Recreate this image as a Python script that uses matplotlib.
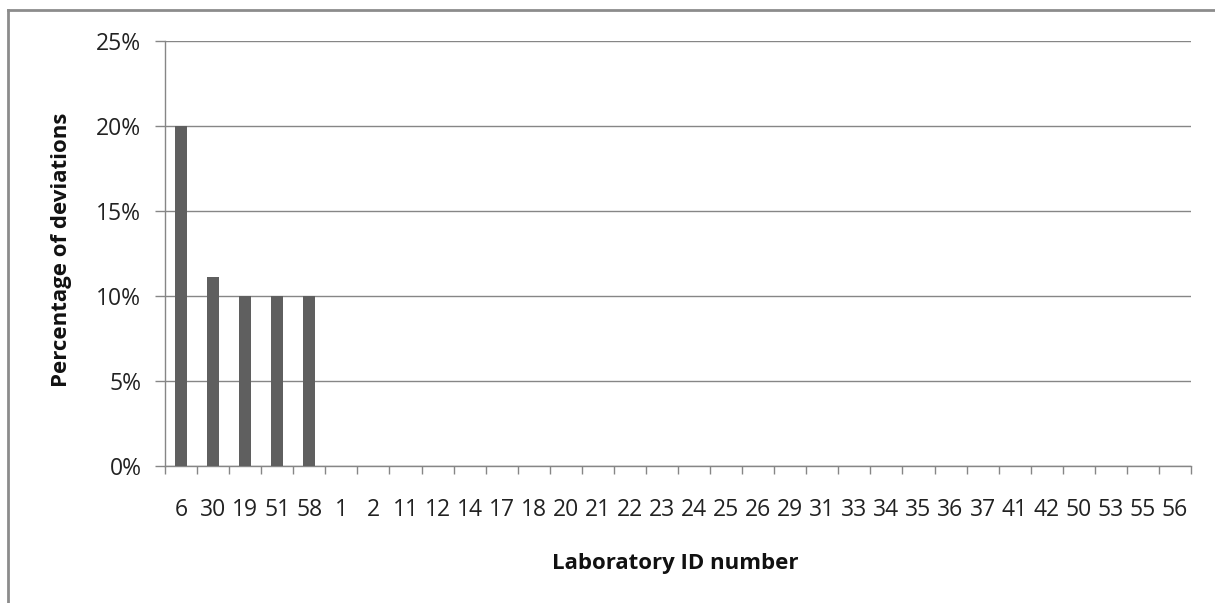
import matplotlib
matplotlib.use("Agg")
import matplotlib.pyplot as plt
from matplotlib.lines import Line2D
from matplotlib.ticker import FuncFormatter, MultipleLocator, FixedLocator
import numpy as np

# Data
lab_ids = ["6", "30", "19", "51", "58", "1", "2", "11", "12", "14", "17",
           "18", "20", "21", "22", "23", "24", "25", "26", "29", "31", "33",
           "34", "35", "36", "37", "41", "42", "50", "53", "55", "56"]
pct_deviations = [20.0, 11.1, 10.0, 10.0, 10.0] + [0.0] * 27

plt.rcParams["font.family"] = ["Open Sans", "DejaVu Sans"]
plt.rcParams["font.size"] = 16

W, H = 1215, 603
fig = plt.figure(figsize=(W / 100, H / 100), dpi=100)
ax = fig.add_axes([165 / W, 1 - 466 / H, (1191 - 165) / W, (466 - 41) / H])

grey = "#868686"
x = np.arange(len(lab_ids))
ax.bar(x, pct_deviations, width=0.38, color="#5f5f5f", zorder=3)

ax.set_xlim(-0.5, len(lab_ids) - 0.5)
ax.set_ylim(0, 25)
ax.yaxis.set_major_locator(MultipleLocator(5))
ax.yaxis.set_major_formatter(FuncFormatter(lambda v, p: "{:.0f}%".format(v)))
ax.grid(axis="y", color=grey, linewidth=1, zorder=0)

ax.set_xticks(x)
ax.set_xticklabels(lab_ids)
ax.xaxis.set_minor_locator(FixedLocator(np.arange(len(lab_ids) + 1) - 0.5))
ax.tick_params(axis="x", which="major", length=0, pad=23, labelsize=16.5,
               colors="#222222")
ax.tick_params(axis="x", which="minor", length=6, width=1, color=grey)
ax.tick_params(axis="y", length=7, width=1, color=grey, pad=10,
               labelsize=16.5, labelcolor="#222222")

for side in ["top", "right"]:
    ax.spines[side].set_visible(False)
for side in ["left", "bottom"]:
    ax.spines[side].set_color(grey)
    ax.spines[side].set_linewidth(1)

fig.text(675 / W, 1 - 563 / H, "Laboratory ID number", ha="center",
         va="center", fontsize=16, fontweight="bold", color="#111111")
fig.text(62 / W, 1 - 250 / H, "Percentage of deviations", ha="center",
         va="center", rotation=90, fontsize=16, fontweight="bold",
         color="#111111")

# Chart-area frame (top and left edges visible in the reference)
fig.add_artist(Line2D([8 / W, 1.0], [1 - 10 / H, 1 - 10 / H],
                      transform=fig.transFigure, color="#8c8c8c", linewidth=2))
fig.add_artist(Line2D([8 / W, 8 / W], [1 - 10 / H, 0.0],
                      transform=fig.transFigure, color="#8c8c8c", linewidth=2))

fig.savefig("out.png", dpi=100, facecolor="white")
